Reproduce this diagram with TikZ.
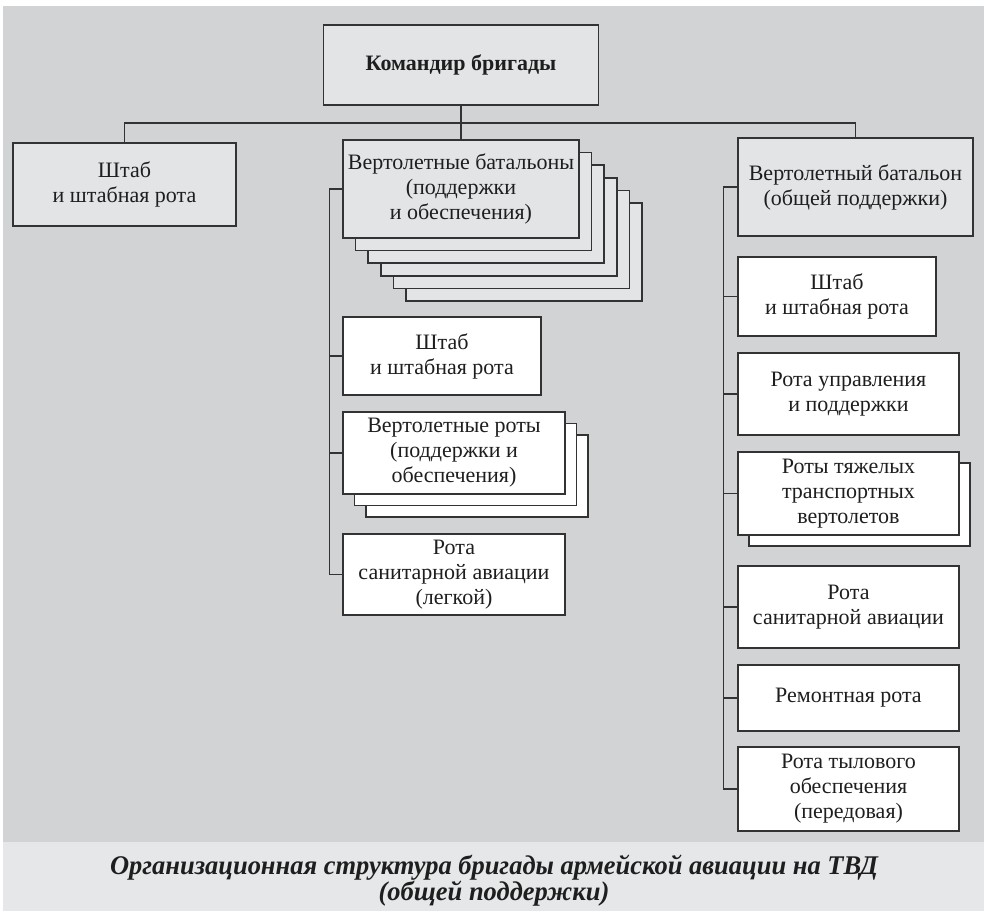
\documentclass[tikz,border=0pt]{standalone}
\usepackage{fontspec}
\setmainfont{Liberation Serif}
\usetikzlibrary{calc}
\definecolor{bgc}{HTML}{D2D3D4}
\definecolor{capc}{HTML}{E6E7E8}
\definecolor{boxg}{HTML}{E3E4E5}
\definecolor{linec}{HTML}{333333}
\definecolor{textc}{HTML}{1E1E1E}
\newlength\capw
\newcommand\captxtA{Организационная структура бригады армейской авиации на ТВД}
\newcommand\captxtB{(общей поддержки)}
\begin{document}
\settowidth\capw{\bfseries\itshape\fontsize{27}{21}\selectfont\captxtA}
\pgfmathsetmacro\capf{768/\capw}
\begin{tikzpicture}[x=1pt,y=-1pt,
  box/.style={draw=linec, line width=1.6pt, inner sep=0pt, align=center,
    font=\fontsize{22}{25}\selectfont, text=textc},
  graybox/.style={box, fill=boxg},
  whitebox/.style={box, fill=white},
  conn/.style={draw=linec, line width=1.3pt}]
\useasboundingbox (0,0) rectangle (985,912);
\fill[white] (0,0) rectangle (985,912);
\fill[bgc] (3,6) rectangle (984,842);
\fill[capc] (3,842) rectangle (984,911);

% top
\node[graybox, minimum width=275, minimum height=80] (top) at (461,65)
  {\raisebox{5pt}{\bfseries Командир бригады}};

% left
\node[graybox, minimum width=223, minimum height=83] (lsht) at (124.5,184.5)
  {Штаб\\и штабная рота};

% middle battalion stack
\foreach \k in {5,4,3,2,1}
  \node[graybox, minimum width=236, minimum height=98] (mbatb\k) at (461+12.6*\k,189+12.6*\k) {};
\node[graybox, minimum width=236, minimum height=98] (mbat) at (461,189)
  {Вертолетные батальоны\\(поддержки\\и обеспечения)};

% right battalion
\node[graybox, minimum width=235, minimum height=98] (rbat) at (855.5,187)
  {Вертолетный батальон\\(общей поддержки)};

% bus
\coordinate (bus) at (461,123);
\draw[conn] (top.south) -- (mbat.north);
\draw[conn] (lsht.north) |- (bus) -| (rbat.north);

% middle column
\node[whitebox, minimum width=198, minimum height=78] (msht) at (442,356)
  {Штаб\\и штабная рота};
\foreach \k in {2,1}
  \node[whitebox, minimum width=222, minimum height=82] (mrotb\k) at (454+11.5*\k,453+11.5*\k) {};
\node[whitebox, minimum width=222, minimum height=82] (mrot) at (454,453)
  {Вертолетные роты\\(поддержки и\\обеспечения)};
\node[whitebox, minimum width=222, minimum height=81] (msan) at (454,574.5)
  {Рота\\санитарной авиации\\(легкой)};
\coordinate (mx) at ($(mbat.west)+(-13,0)$);
\draw[conn] (mbat.west) -- (mx) |- (msan.west);
\draw[conn] (msht.west -| mx) -- (msht.west);
\draw[conn] (mrot.west -| mx) -- (mrot.west);

% right column
\node[whitebox, minimum width=198, minimum height=79] (rsht) at (837,296.5)
  {Штаб\\и штабная рота};
\node[whitebox, minimum width=221, minimum height=82] (rupr) at (848.5,394)
  {Рота управления\\и поддержки};
\node[whitebox, minimum width=221, minimum height=83] (rtjab) at (859.5,504.5) {};
\node[whitebox, minimum width=221, minimum height=83] (rtja) at (848.5,493.5)
  {Роты тяжелых\\транспортных\\вертолетов};
\node[whitebox, minimum width=221, minimum height=82] (rsan) at (848.5,607)
  {Рота\\санитарной авиации};
\node[whitebox, minimum width=221, minimum height=66] (rrem) at (848.5,698)
  {Ремонтная рота};
\node[whitebox, minimum width=221, minimum height=84] (rtyl) at (848.5,789)
  {Рота тылового\\обеспечения\\(передовая)};
\coordinate (rx) at ($(rbat.west)+(-14,0)$);
\draw[conn] (rbat.west) -- (rx) |- (rtyl.west);
\foreach \n in {rsht,rupr,rtja,rsan,rrem}
  \draw[conn] (\n.west -| rx) -- (\n.west);

% caption
\node[inner sep=0pt, text=textc] (cap) at (494,881)
  {\scalebox{\capf}[1]{\bfseries\itshape\fontsize{27}{21}\selectfont
   \begin{tabular}{@{}c@{}}\captxtA\\\captxtB\end{tabular}}};
\end{tikzpicture}
\end{document}
